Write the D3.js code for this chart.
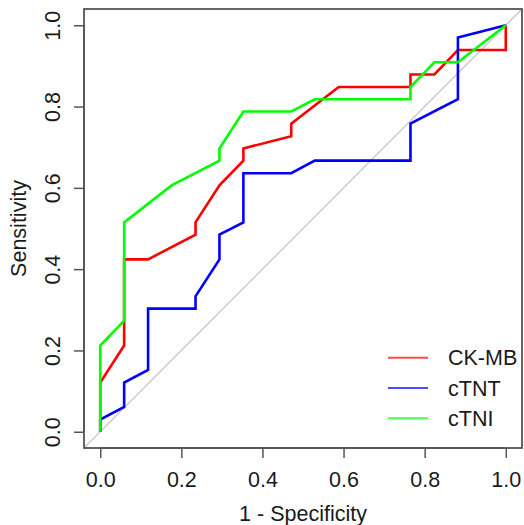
<!DOCTYPE html>
<html>
<head>
<meta charset="utf-8">
<script src="https://cdn.jsdelivr.net/npm/d3@7"></script>
<style>
  body { margin: 0; background: #fff; }
  text { font-family: "Liberation Sans", Arial, sans-serif; fill: #1a1a1a; }
</style>
</head>
<body>
<svg id="svg"></svg>
<script>
var w = 524;
var h = 525;

// plot region (R style, 4% padding on each side)
var plotL = 84, plotR = 522, plotT = 9, plotB = 448;

var ticks = [0, 0.2, 0.4, 0.6, 0.8, 1.0];
var tickLabels = ["0.0", "0.2", "0.4", "0.6", "0.8", "1.0"];

var names = ["CK-MB", "cTNT", "cTNI"];
var colors = ["#ff0000", "#0000ff", "#00ff00"];

// 1 - specificity / sensitivity
var ckmbX = [0, 0, 0.059, 0.059, 0.118, 0.235, 0.235, 0.294, 0.353, 0.353, 0.471, 0.471, 0.588, 0.765, 0.765, 0.824, 0.882, 1.0, 1.0];
var ckmbY = [0, 0.121, 0.212, 0.424, 0.424, 0.485, 0.515, 0.606, 0.667, 0.697, 0.727, 0.758, 0.848, 0.848, 0.879, 0.879, 0.939, 0.939, 1.0];

var ctntX = [0, 0, 0.059, 0.059, 0.118, 0.118, 0.235, 0.235, 0.294, 0.294, 0.353, 0.353, 0.471, 0.529, 0.765, 0.765, 0.882, 0.882, 1.0];
var ctntY = [0, 0.030, 0.061, 0.121, 0.152, 0.303, 0.303, 0.333, 0.424, 0.485, 0.515, 0.636, 0.636, 0.667, 0.667, 0.758, 0.818, 0.970, 1.0];

var ctniX = [0, 0, 0.059, 0.059, 0.176, 0.294, 0.294, 0.353, 0.471, 0.529, 0.765, 0.765, 0.824, 0.882, 1.0];
var ctniY = [0, 0.212, 0.273, 0.515, 0.606, 0.667, 0.697, 0.788, 0.788, 0.818, 0.818, 0.848, 0.909, 0.909, 1.0];

var series = [
    {name: names[0], color: colors[0], xs: ckmbX, ys: ckmbY},
    {name: names[1], color: colors[1], xs: ctntX, ys: ctntY},
    {name: names[2], color: colors[2], xs: ctniX, ys: ctniY}
];

var x = d3.scaleLinear().domain([-0.04, 1.04]).range([plotL, plotR]);
var y = d3.scaleLinear().domain([-0.04, 1.04]).range([plotB, plotT]);

var svg = d3.select("#svg")
    .attr("width", w)
    .attr("height", h)

svg.append("defs").append("clipPath")
    .attr("id", "clip")
  .append("rect")
    .attr("x", plotL).attr("y", plotT)
    .attr("width", plotR - plotL).attr("height", plotB - plotT)

// diagonal reference line across the whole region
svg.append("line")
    .attr("clip-path", "url(#clip)")
    .attr("x1", x(-0.04)).attr("y1", y(-0.04))
    .attr("x2", x(1.04)).attr("y2", y(1.04))
    .attr("stroke", "#c8c8c8")
    .attr("stroke-width", 1.3)

var line = d3.line()
    .x(function(d) { return x(d[0]) })
    .y(function(d) { return y(d[1]) })

series.forEach(function(s) {
    var pts = s.xs.map(function(v, i) { return [v, s.ys[i]] })
    svg.append("path")
        .attr("d", line(pts))
        .attr("fill", "none")
        .attr("stroke", s.color)
        .attr("stroke-width", 2.6)
        .attr("stroke-linejoin", "miter")
})

// box
svg.append("rect")
    .attr("x", plotL).attr("y", plotT)
    .attr("width", plotR - plotL).attr("height", plotB - plotT)
    .attr("fill", "none")
    .attr("stroke", "#555")
    .attr("stroke-width", 1.8)

// axes
var xAxis = d3.axisBottom(x).tickValues(ticks)
    .tickFormat(function(d, i) { return tickLabels[i] })
    .tickSizeInner(10).tickSizeOuter(0).tickPadding(14)
var gx = svg.append("g")
    .attr("transform", "translate(0," + plotB + ")")
    .call(xAxis)
gx.select(".domain").attr("d", "M" + x(0) + ",0H" + x(1)).attr("stroke", "#555").attr("stroke-width", 1.5)
gx.selectAll(".tick line").attr("stroke", "#555").attr("stroke-width", 1.5)
gx.selectAll(".tick text")
    .attr("font-size", 21.5)
    .attr("font-family", "Liberation Sans, Arial, sans-serif")
    .attr("fill", "#1a1a1a")

var yAxis = d3.axisLeft(y).tickValues(ticks)
    .tickFormat(function(d, i) { return tickLabels[i] })
    .tickSizeInner(10).tickSizeOuter(0).tickPadding(14)
var gy = svg.append("g")
    .attr("transform", "translate(" + plotL + ",0)")
    .call(yAxis)
gy.select(".domain").attr("d", "M0," + y(0) + "V" + y(1)).attr("stroke", "#555").attr("stroke-width", 1.5)
gy.selectAll(".tick line").attr("stroke", "#555").attr("stroke-width", 1.5)
gy.selectAll(".tick text")
    .attr("font-size", 21.5)
    .attr("font-family", "Liberation Sans, Arial, sans-serif")
    .attr("fill", "#1a1a1a")
    .attr("x", null).attr("dy", null)
    .attr("text-anchor", "middle")
    .attr("transform", "translate(-24,0)rotate(-90)")

// axis titles
svg.append("text")
    .attr("x", x(0.5)).attr("y", 521)
    .attr("text-anchor", "middle")
    .attr("font-size", 21.5)
    .text("1 - Specificity")

svg.append("text")
    .attr("transform", "translate(26," + y(0.5) + ")rotate(-90)")
    .attr("text-anchor", "middle")
    .attr("font-size", 21.5)
    .text("Sensitivity")

// legend
var legend = svg.append("g")
series.forEach(function(s, i) {
    var ly = 357.7 + i * 30.3
    legend.append("line")
        .attr("x1", 388).attr("x2", 428)
        .attr("y1", ly).attr("y2", ly)
        .attr("stroke", s.color)
        .attr("stroke-opacity", 0.7)
        .attr("stroke-width", 2)
    legend.append("text")
        .attr("x", 448).attr("y", ly + 7.5)
        .attr("font-size", 21.5)
        .text(s.name)
})
</script>
</body>
</html>
